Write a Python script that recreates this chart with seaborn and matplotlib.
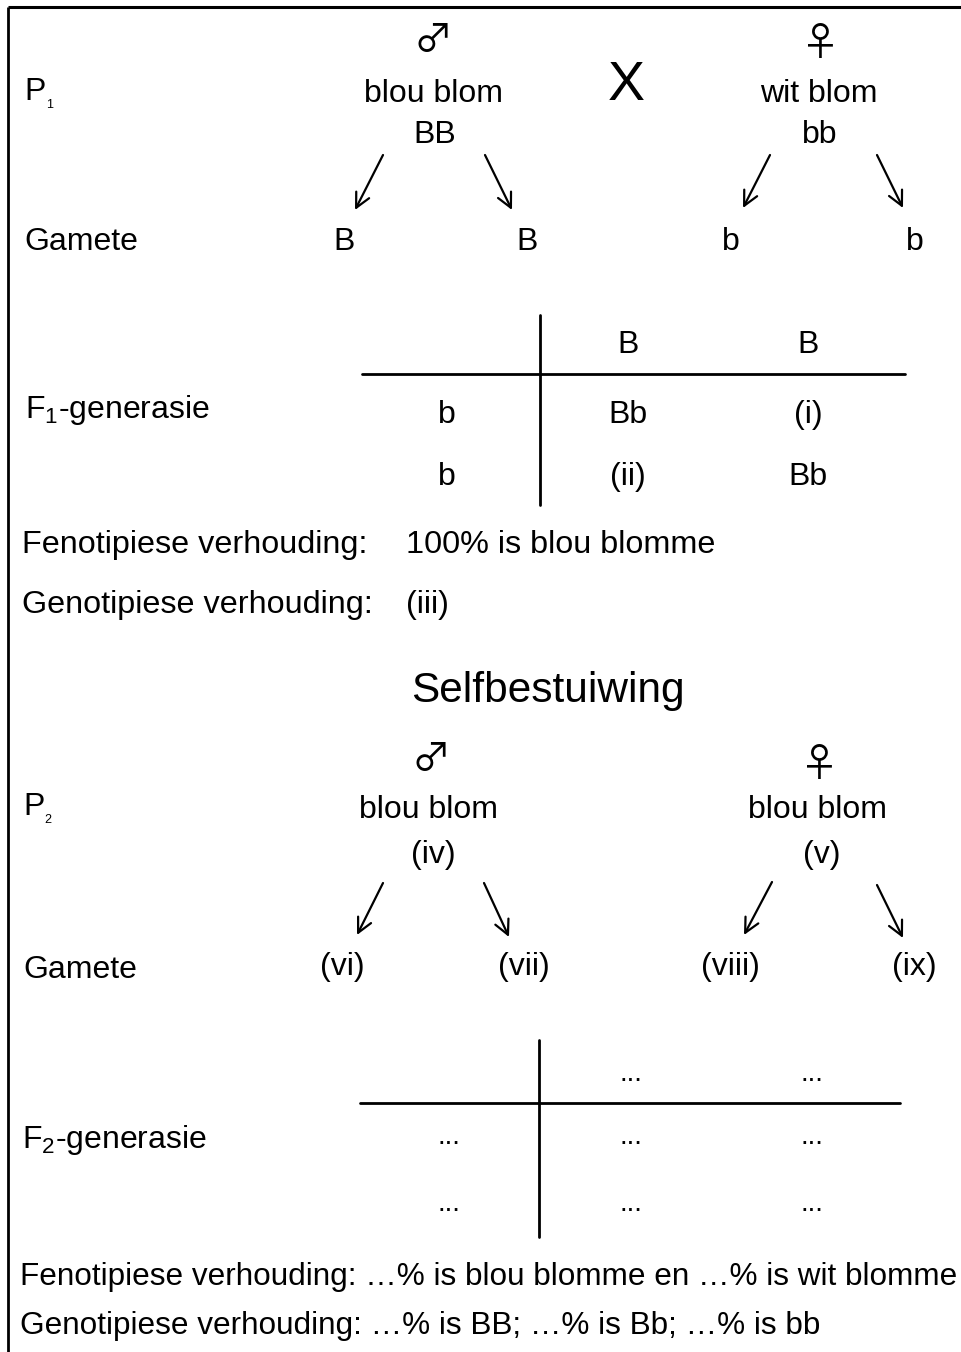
import matplotlib
matplotlib.use("Agg")
import matplotlib.pyplot as plt
import seaborn as sns

# --- DIAGRAM CONTENT
row_labels = ["Gamete", "Gamete"]
gen_labels = ["F$_\\mathrm{1}$-generasie", "F$_\\mathrm{2}$-generasie"]
sex_symbols = ["\u2642", "\u2640"]

p1_parents = ["blou blom", "wit blom"]
p1_genotypes = ["BB", "bb"]
p1_gametes = ["B", "B", "b", "b"]

f1_cols = ["B", "B"]
f1_rows = ["b", "b"]
f1_cells = [["Bb", "(i)"], ["(ii)", "Bb"]]
f1_ratios = [("Fenotipiese verhouding:", "100% is blou blomme"),
             ("Genotipiese verhouding:", "(iii)")]

self_title = "Selfbestuiwing"
p2_parents = ["blou blom", "blou blom"]
p2_genotypes = ["(iv)", "(v)"]
p2_gametes = ["(vi)", "(vii)", "(viii)", "(ix)"]

f2_cols = ["...", "..."]
f2_rows = ["...", "..."]
f2_cells = [["...", "..."], ["...", "..."]]
f2_ratios = ["Fenotipiese verhouding: \u2026% is blou blomme en \u2026% is wit blomme",
             "Genotipiese verhouding: \u2026% is BB; \u2026% is Bb; \u2026% is bb"]

# --- STYLE
sns.set_theme(style="white")
plt.rcParams["font.family"] = ["Liberation Sans", "DejaVu Sans"]
plt.rcParams["mathtext.fontset"] = "custom"
plt.rcParams["mathtext.rm"] = "Liberation Sans"
plt.rcParams["mathtext.it"] = "Liberation Sans"

W, H = 962, 1352
fig = plt.figure(figsize=(W / 100, H / 100), dpi=100)
ax = fig.add_axes([0, 0, 1, 1])
ax.set_xlim(0, W)
ax.set_ylim(H, 0)
ax.axis("off")

FS = 23
K = "black"

def txt(x, y, s, size=FS, ha="left", va="baseline", **kw):
    ax.text(x, y, s, fontsize=size, ha=ha, va=va, color=K, **kw)

def sym(x, y, s):
    ax.text(x, y, s, fontsize=28, ha="center", va="center", color=K,
            family=["Noto Sans CJK JP", "DejaVu Sans"])

def arrow(x0, y0, x1, y1):
    ax.annotate("", xy=(x1, y1), xytext=(x0, y0),
                arrowprops=dict(arrowstyle="->", lw=1.6, color=K,
                                mutation_scale=26, shrinkA=0, shrinkB=0))

# frame (top and left edges)
ax.plot([8, W], [7, 7], color=K, lw=2.2, solid_capstyle="butt")
ax.plot([8, 8], [7, H], color=K, lw=2.0, solid_capstyle="butt")

# --- P1 cross
txt(24, 100, "P")
txt(46, 108, "1", size=9)
parent_x = [434, 819]
sym(433, 41, sex_symbols[0])
sym(820, 44, sex_symbols[1])
for x, name, geno in zip(parent_x, p1_parents, p1_genotypes):
    txt(x, 102, name, size=23, ha="center")
    txt(x + 1, 143, geno, ha="center")
txt(626, 100, "X", size=40, ha="center")

arrow(383, 155, 355, 210)
arrow(485, 155, 512, 210)
arrow(770, 155, 743, 208)
arrow(877, 155, 903, 208)

txt(24, 250, row_labels[0])
gamete_x = [344, 527, 731, 915]
for x, g in zip(gamete_x, p1_gametes):
    txt(x, 250, g, ha="center")

# --- F1 Punnett square
ax.plot([540, 540], [315, 505], color=K, lw=2.0)
ax.plot([362, 905], [374, 374], color=K, lw=2.0)
col_x = [628, 808]
row_y = [423, 485]
for x, c in zip(col_x, f1_cols):
    txt(x, 353, c, ha="center")
for y, r, cells in zip(row_y, f1_rows, f1_cells):
    txt(447, y, r, ha="center")
    for x, c in zip(col_x, cells):
        txt(x, y, c, ha="center")
txt(25, 418, gen_labels[0])

for y, (lab, val) in zip([553, 613], f1_ratios):
    txt(22, y, lab, size=23.3)
    txt(406, y, val, size=23.3)

# --- Self pollination
txt(548, 702, self_title, size=30.5, ha="center")

txt(23, 815, "P")
txt(44, 823, "2", size=9)
sym(431, 760, sex_symbols[0])
sym(819, 765, sex_symbols[1])
for x, name, geno in zip([429, 818], p2_parents, p2_genotypes):
    txt(x, 818, name, size=23, ha="center")
    txt(x + 4, 863, geno, ha="center")

arrow(383, 883, 357, 935)
arrow(484, 883, 509, 937)
arrow(772, 882, 744, 935)
arrow(877, 885, 903, 938)

txt(23, 978, row_labels[1])
for x, g in zip([342, 524, 730, 914], p2_gametes):
    txt(x, 975, g, ha="center")

# --- F2 Punnett square
ax.plot([539, 539], [1040, 1237], color=K, lw=2.0)
ax.plot([360, 900], [1103, 1103], color=K, lw=2.0)
col_x2 = [631, 812]
row_y2 = [1144, 1211]
for x, c in zip(col_x2, f2_cols):
    txt(x, 1081, c, size=20, ha="center")
for y, r, cells in zip(row_y2, f2_rows, f2_cells):
    txt(449, y, r, size=20, ha="center")
    for x, c in zip(col_x2, cells):
        txt(x, y, c, size=20, ha="center")
txt(22, 1148, gen_labels[1])

for y, line in zip([1285, 1334], f2_ratios):
    txt(20, y, line, size=22.7)

fig.savefig("out.png", dpi=100, facecolor="white")
